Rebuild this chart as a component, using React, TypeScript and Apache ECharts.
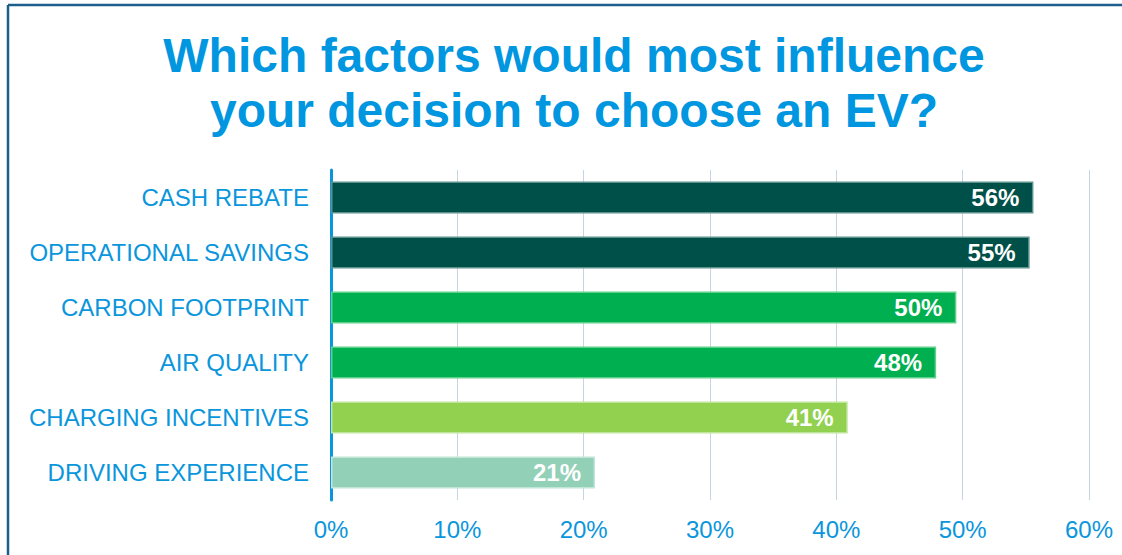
import React, { useEffect, useRef } from "react";
import * as echarts from "echarts";

const categories = [
  "CASH REBATE",
  "OPERATIONAL SAVINGS",
  "CARBON FOOTPRINT",
  "AIR QUALITY",
  "CHARGING INCENTIVES",
  "DRIVING EXPERIENCE",
];
const values = [55.6, 55.3, 49.5, 47.9, 40.9, 20.9];
const barColors = ["#00504a", "#00504a", "#00b050", "#00b050", "#92d050", "#92d0b8"];
const borderColors = ["#5f918c", "#5f918c", "#5fd08a", "#5fd08a", "#bfe59a", "#bfe6d6"];
const titleLines = ["Which factors would most influence", "your decision to choose an EV?"];

const FONT = "'Liberation Sans', Arial, sans-serif";
const BLUE = "#0a96dc";

export default function App() {
  const ref = useRef<HTMLDivElement>(null);
  useEffect(() => {
    document.body.style.margin = "0";
    const chart = echarts.init(ref.current!, null, { renderer: "svg" });
    chart.setOption({
      animation: false,
      textStyle: { fontFamily: FONT },
      graphic: [
        {
          type: "line",
          shape: { x1: 8, y1: 5, x2: 1122, y2: 5 },
          style: { stroke: "#1d5f8c", lineWidth: 2.5 },
        },
        {
          type: "line",
          shape: { x1: 8, y1: 5, x2: 8, y2: 555 },
          style: { stroke: "#1d5f8c", lineWidth: 2.5 },
        },
        {
          type: "text",
          x: 574,
          y: 28,
          style: {
            text: titleLines.join("\n"),
            fill: "#0096e0",
            font: `bold 48px ${FONT}`,
            lineHeight: 55,
            align: "center",
            verticalAlign: "top",
          },
        },
      ],
      grid: { left: 331, right: 33, top: 170, bottom: 55 },
      xAxis: {
        type: "value",
        min: 0,
        max: 60,
        interval: 10,
        axisLabel: {
          formatter: "{value}%",
          color: BLUE,
          fontSize: 24,
          margin: 17,
          fontFamily: FONT,
        },
        axisLine: { show: false },
        axisTick: { show: false },
        splitLine: { lineStyle: { color: "#c5d5e2", width: 1 } },
      },
      yAxis: {
        type: "category",
        data: categories,
        inverse: true,
        axisLine: { lineStyle: { color: "#0a96dc", width: 3 } },
        axisTick: { show: false },
        axisLabel: { color: BLUE, fontSize: 24, margin: 22, fontFamily: FONT },
      },
      series: [
        {
          type: "bar",
          barWidth: 32,
          data: values.map((v, i) => ({
            value: v,
            itemStyle: { color: barColors[i], borderColor: borderColors[i], borderWidth: 1.5 },
          })),
          label: {
            show: true,
            position: "insideRight",
            distance: 14,
            color: "#ffffff",
            fontWeight: "bold",
            fontSize: 24,
            fontFamily: FONT,
            formatter: (p: any) => `${Math.round(p.value)}%`,
          },
        },
      ],
    });
    return () => chart.dispose();
  }, []);
  return <div ref={ref} style={{ width: 1122, height: 555 }} />;
}
